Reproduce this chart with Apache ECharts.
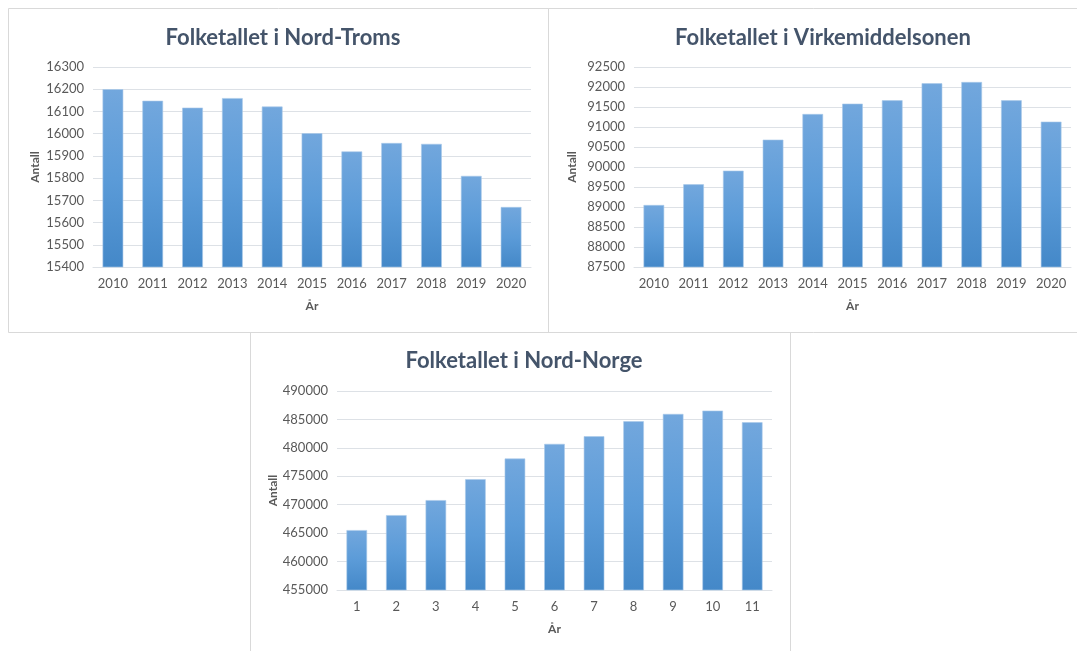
<!DOCTYPE html>
<html>
<head>
<meta charset="utf-8">
<script src="https://cdn.jsdelivr.net/npm/echarts@6/dist/echarts.min.js"></script>
<style>
  html, body { margin: 0; padding: 0; background: #fff; }
  #main { width: 1077px; height: 651px; }
</style>
</head>
<body>
<div id="main"></div>
<script>
// data
const years = ['2010', '2011', '2012', '2013', '2014', '2015', '2016', '2017', '2018', '2019', '2020'];
const yearIndex = ['1', '2', '3', '4', '5', '6', '7', '8', '9', '10', '11'];
const nordTroms = [16200, 16148, 16117, 16160, 16122, 16002, 15920, 15958, 15954, 15810, 15670];
const virkemiddelsonen = [89050, 89567, 89908, 90683, 91325, 91583, 91667, 92092, 92125, 91667, 91133];
const nordNorge = [465535, 468169, 470803, 474490, 478119, 480695, 482041, 484675, 485962, 486548, 484499];

const titles = ['Folketallet i Nord-Troms', 'Folketallet i Virkemiddelsonen', 'Folketallet i Nord-Norge'];

const font = 'Lato, "Open Sans", sans-serif';
const gridColor = '#dde1e6';
const labelColor = '#595959';

const barFill = new echarts.graphic.LinearGradient(0, 0, 0, 1, [
  { offset: 0, color: '#72a7dd' },
  { offset: 0.5, color: '#5b9bd8' },
  { offset: 1, color: '#4488c8' }
]);

function xAx(idx, data) {
  return {
    type: 'category', gridIndex: idx, data: data,
    name: 'År', nameLocation: 'middle', nameGap: 33,
    nameTextStyle: { fontFamily: font, fontWeight: 'bold', fontSize: 12, color: labelColor },
    axisLine: { lineStyle: { color: gridColor } },
    axisTick: { show: false },
    axisLabel: { fontFamily: font, fontSize: 13, color: labelColor, margin: 10 }
  };
}

function yAx(idx, min, max, step, gap) {
  return {
    type: 'value', gridIndex: idx, min: min, max: max, interval: step,
    name: 'Antall', nameLocation: 'middle', nameRotate: 90, nameGap: gap,
    nameTextStyle: { fontFamily: font, fontWeight: 'bold', fontSize: 12, color: labelColor },
    axisLine: { show: false },
    axisTick: { show: false },
    axisLabel: { fontFamily: font, fontSize: 13, color: labelColor, margin: 9, formatter: v => String(v) },
    splitLine: { lineStyle: { color: gridColor } }
  };
}

function bars(idx, data) {
  return {
    type: 'bar', xAxisIndex: idx, yAxisIndex: idx, data: data,
    barWidth: '52%',
    itemStyle: { color: barFill, borderColor: '#a9c9ea', borderWidth: 0.6 }
  };
}

const chart = echarts.init(document.getElementById('main'), null, { renderer: 'canvas' });

const option = {
  backgroundColor: '#fff',
  animation: false,
  title: [
    { text: titles[0], left: 278, top: 22, textAlign: 'center' },
    { text: titles[1], left: 818, top: 22, textAlign: 'center' },
    { text: titles[2], left: 519, top: 345, textAlign: 'center' }
  ].map(t => Object.assign(t, {
    textStyle: { fontFamily: font, fontWeight: 'bold', fontSize: 22, color: '#44546a' }
  })),
  graphic: [
    { type: 'rect', shape: { x: 8.5, y: 8.5, width: 540, height: 324 }, style: { fill: 'none', stroke: '#d9d9d9', lineWidth: 1 }, z: -1 },
    { type: 'rect', shape: { x: 548.5, y: 8.5, width: 540, height: 324 }, style: { fill: 'none', stroke: '#d9d9d9', lineWidth: 1 }, z: -1 },
    { type: 'rect', shape: { x: 250.5, y: 332.5, width: 540, height: 330 }, style: { fill: 'none', stroke: '#d9d9d9', lineWidth: 1 }, z: -1 }
  ],
  grid: [
    { left: 93, width: 438, top: 67, height: 200 },
    { left: 634, width: 437, top: 67, height: 200 },
    { left: 337, width: 435, top: 391, height: 199 }
  ],
  xAxis: [xAx(0, years), xAx(1, years), xAx(2, yearIndex)],
  yAxis: [
    yAx(0, 15400, 16300, 100, 52),
    yAx(1, 87500, 92500, 500, 56),
    yAx(2, 455000, 490000, 5000, 58)
  ],
  series: [bars(0, nordTroms), bars(1, virkemiddelsonen), bars(2, nordNorge)]
};

chart.setOption(option);
</script>
</body>
</html>
